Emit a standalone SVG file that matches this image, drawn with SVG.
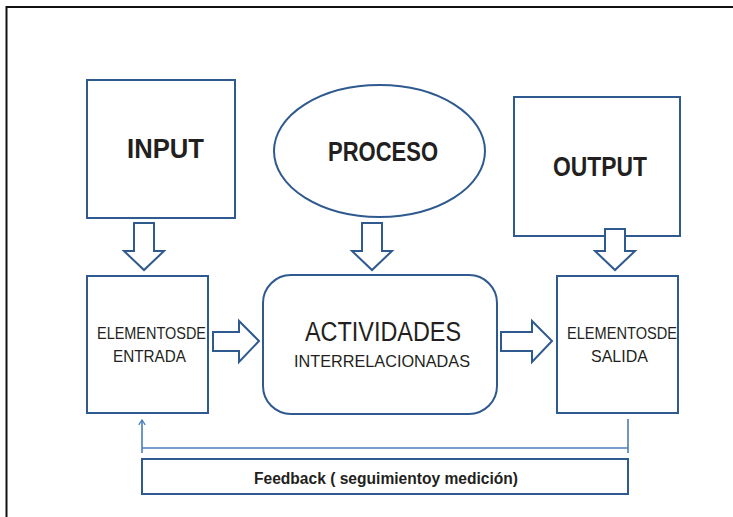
<svg xmlns="http://www.w3.org/2000/svg" width="733" height="517" viewBox="0 0 733 517">
<style>
.box{fill:#fff;stroke:#2f5a8f;stroke-width:2}
.arr{fill:#fff;stroke:#2f5a8f;stroke-width:2;stroke-linejoin:miter}
.fb{fill:none;stroke:#4a7dbb;stroke-width:1.6}
text{font-family:"Liberation Sans",Arial,sans-serif;fill:#231f20;text-anchor:start}
.big{font-size:27px;font-weight:bold}
.mid{font-size:27px}
.sm{font-size:17px}
.fbt{font-size:16px;font-weight:bold}
</style>
<defs>
<marker id="ah" viewBox="0 0 10 10" refX="9" refY="5" markerWidth="8" markerHeight="8" orient="auto" markerUnits="userSpaceOnUse">
<path d="M3,1 L9,5 L3,9" fill="none" stroke="#4a7dbb" stroke-width="1.6"/>
</marker>
</defs>
<rect width="733" height="517" fill="#fff"/>
<path d="M6.5,520 V7 H740" fill="none" stroke="#111" stroke-width="2"/>

<g id="input">
<rect class="box" x="87" y="80" width="148" height="138"/>
<text class="big" x="127" y="158" textLength="77" lengthAdjust="spacingAndGlyphs">INPUT</text>
</g>
<g id="proceso">
<ellipse class="box" cx="379.5" cy="151" rx="105.5" ry="66"/>
<text class="big" x="328" y="161" textLength="110" lengthAdjust="spacingAndGlyphs">PROCESO</text>
</g>
<g id="output">
<rect class="box" x="514" y="97" width="166" height="139"/>
<text class="big" x="553" y="176" textLength="94" lengthAdjust="spacingAndGlyphs">OUTPUT</text>
</g>
<g id="entrada">
<rect class="box" x="87" y="276" width="121" height="137"/>
<text class="sm" x="97" y="339" textLength="109" lengthAdjust="spacingAndGlyphs">ELEMENTOSDE</text>
<text class="sm" x="113" y="362" textLength="73" lengthAdjust="spacingAndGlyphs">ENTRADA</text>
</g>
<g id="actividades">
<rect class="box" x="263" y="275" width="234" height="139" rx="28" ry="28"/>
<text class="mid" x="305" y="341" textLength="156" lengthAdjust="spacingAndGlyphs">ACTIVIDADES</text>
<text class="sm" x="294" y="367" textLength="176" lengthAdjust="spacingAndGlyphs">INTERRELACIONADAS</text>
</g>
<g id="salida">
<rect class="box" x="557" y="276" width="121" height="137"/>
<text class="sm" x="567" y="339" textLength="110" lengthAdjust="spacingAndGlyphs">ELEMENTOSDE</text>
<text class="sm" x="591" y="362" textLength="57" lengthAdjust="spacingAndGlyphs">SALIDA</text>
</g>
<g id="feedback">
<rect class="box" x="142" y="459" width="486" height="35"/>
<text class="fbt" x="254" y="484" textLength="264" lengthAdjust="spacingAndGlyphs">Feedback ( seguimientoy medición)</text>
</g>

<g id="connectors">
<polygon class="arr" points="134,223 154,223 154,251 164,251 144,270 124,251 134,251"/>
<polygon class="arr" points="362,223 382,223 382,251 392,251 372,270 352,251 362,251"/>
<polygon class="arr" points="605,229 625,229 625,251 635,251 615,270 595,251 605,251"/>
<polygon class="arr" points="213,332 239,332 239,321 259,341 239,362 239,351 213,351"/>
<polygon class="arr" points="501,332 532,332 532,321 552,341 532,362 532,351 501,351"/>
<path class="fb" d="M628,419 V453 M628,448 H142 M142,453 V420" marker-end="url(#ah)"/>
</g>
</svg>
